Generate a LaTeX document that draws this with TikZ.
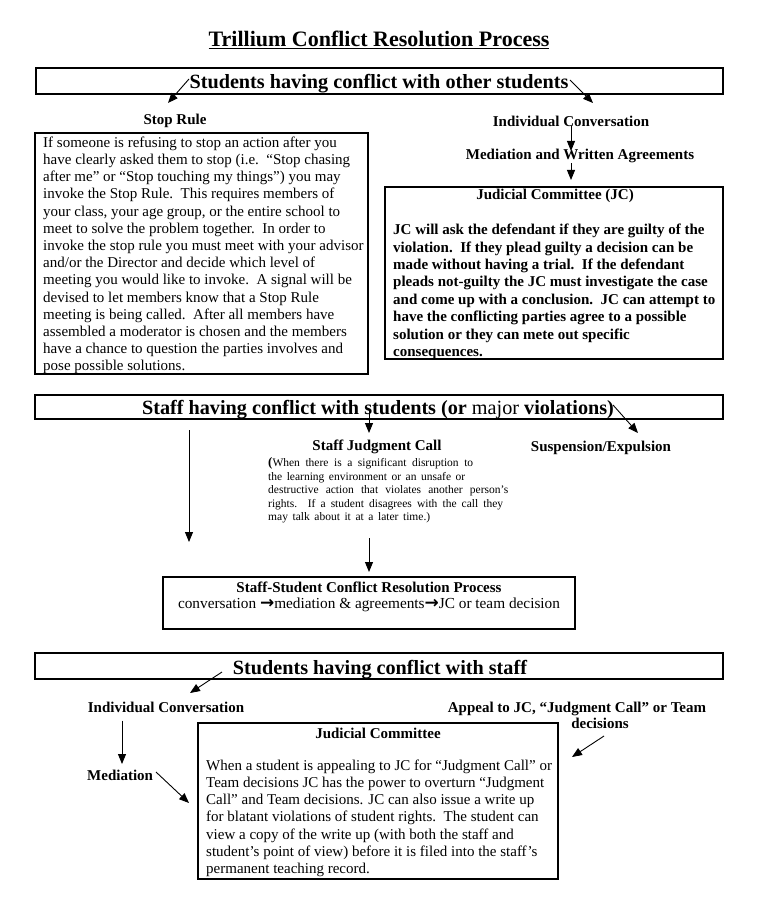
\documentclass[tikz,border=0pt]{standalone}
\usepackage{fontspec}
\setmainfont{Liberation Serif}
\newfontfamily\arrowfont{DejaVu Sans}
\usetikzlibrary{arrows.meta,calc}
\begin{document}
\begin{tikzpicture}[x=1pt,y=-1pt,
  box/.style={draw,line width=1.1pt,inner sep=0pt},
  arr/.style={line width=0.9pt,-{Triangle[length=10pt,width=8pt]}},
  hdr/.style={font=\fontsize{20.2}{23}\selectfont\bfseries,inner sep=0pt,anchor=base},
  lbl/.style={font=\fontsize{15}{16.5}\selectfont\bfseries,inner sep=0pt},
  body/.style={font=\fontsize{15}{17.2}\selectfont,align=left,inner sep=0pt,anchor=north west},
  bbody/.style={font=\fontsize{15}{17.4}\selectfont\bfseries,align=left,inner sep=0pt,anchor=north west},
  small/.style={font=\fontsize{11.5}{13.5}\selectfont,align=left,inner sep=0pt,anchor=north west},
]
\useasboundingbox (0,0) rectangle (759,917);
\fill[white] (0,0) rectangle (759,917);

\node[font=\fontsize{22}{25}\selectfont\bfseries,inner sep=0pt] (title) at (379,40) {\underline{Trillium Conflict Resolution Process}};

% ---------- section 1
\node[box,minimum width=687pt,minimum height=26pt] (h1) at (379.5,81) {};
\node[hdr] (h1t) at (379,89) {Students having conflict with other students};
\node[lbl] (stop) at (175,121) {Stop Rule};
\node[box,minimum width=333pt,minimum height=241pt] (stopbox) at (201.5,253.5) {};
\node[body] (stoptext) at (43,136.5) {If someone is refusing to stop an action after you\\
have clearly asked them to stop (i.e.\ \ “Stop chasing\\
after me” or “Stop touching my things”) you may\\
invoke the Stop Rule.\ \ This requires members of\\
your class, your age group, or the entire school to\\
meet to solve the problem together.\ \ In order to\\
invoke the stop rule you must meet with your advisor\\
and/or the Director and decide which level of\\
meeting you would like to invoke.\ \ A signal will be\\
devised to let members know that a Stop Rule\\
meeting is being called.\ \ After all members have\\
assembled a moderator is chosen and the members\\
have a chance to question the parties involves and\\
pose possible solutions.};

\node[lbl] (ic1) at (571,121) {Individual Conversation};
\node[lbl] (mw) at (580,156) {Mediation and Written Agreements};
\node[box,minimum width=338pt,minimum height=172pt] (jcbox) at (554,273) {};
\node[lbl] (jct) at (555,196) {Judicial Committee (JC)};
\node[bbody] (jctext) at (393,224) {JC will ask the defendant if they are guilty of the\\
violation.\ \ If they plead guilty a decision can be\\
made without having a trial.\ \ If the defendant\\
pleads not-guilty the JC must investigate the case\\
and come up with a conclusion.\ \ JC can attempt to\\
have the conflicting parties agree to a possible\\
solution or they can mete out specific\\
consequences.};

\coordinate (a1s) at (189,79);
\coordinate (a1e) at (168,103);
\coordinate (a2s) at (570,80);
\coordinate (a2e) at (593,103);
\coordinate (a3e) at (571,151);
\coordinate (a4e) at (571,180);
\draw[arr] (a1s) -- (a1e);
\draw[arr] (a2s) -- (a2e);
\draw[arr] (ic1.south -| a3e) -- (a3e);
\draw[arr] (mw.south -| a4e) -- (a4e);

% ---------- section 2
\node[box,minimum width=688pt,minimum height=24pt] (h2) at (379,407) {};
\node[hdr] (h2t) at (378,414) {Staff having conflict with students (or {\mdseries major} violations)};
\node[lbl] (sjc) at (377,447) {Staff Judgment Call};
\node[lbl] (susp) at (601,448) {Suspension/Expulsion};
\node[small] (jtext) at (268,457.5) {\makebox[205pt][s]{{\bfseries\fontsize{13}{13.5}\selectfont(}When there is a significant disruption to}\\
\makebox[197pt][s]{the learning environment or an unsafe or}\\
\makebox[240pt][s]{destructive action that violates another person’s}\\
\makebox[235pt][s]{rights. If a student disagrees with the call they}\\
\makebox[162pt][s]{may talk about it at a later time.)}};
\node[box,minimum width=412pt,minimum height=52pt] (ssbox) at (369,603) {};
\node[lbl] (sst) at (369,587) {Staff-Student Conflict Resolution Process};
\node[font=\fontsize{15.3}{17}\selectfont,inner sep=0pt] (ssl) at (369,605) {conversation {\arrowfont\bfseries\fontsize{17}{17}\selectfont →}mediation \& agreements{\arrowfont\bfseries\fontsize{17}{17}\selectfont →}JC or team decision};

\coordinate (b1s) at (369,411);
\coordinate (b1e) at (369,433);
\coordinate (b2s) at (613,405);
\coordinate (b2e) at (638,433);
\coordinate (b3s) at (189,430);
\coordinate (b3e) at (189,542);
\coordinate (b4s) at (369,538);
\coordinate (b4e) at (369,572);
\draw[arr] (b1s) -- (b1e);
\draw[arr] (b2s) -- (b2e);
\draw[arr] (b3s) -- (b3e);
\draw[arr] (b4s) -- (b4e);

% ---------- section 3
\node[box,minimum width=688pt,minimum height=26pt] (h3) at (379,666) {};
\node[hdr] (h3t) at (380,674) {Students having conflict with staff};
\node[lbl] (ic2) at (166,707) {Individual Conversation};
\node[lbl,anchor=west] (med) at (87,775) {Mediation};
\node[lbl,align=center,font=\fontsize{15}{16}\selectfont\bfseries] (appeal) at (577,715) {Appeal to JC, “Judgment Call” or Team\\\hspace*{46pt}decisions};
\node[box,minimum width=360pt,minimum height=156pt] (jc2box) at (378,801) {};
\node[lbl] (jc2t) at (378,733) {Judicial Committee};
\node[body] (jc2text) at (206,759.5) {When a student is appealing to JC for “Judgment Call” or\\
Team decisions JC has the power to overturn “Judgment\\
Call” and Team decisions. JC can also issue a write up\\
for blatant violations of student rights.\ \ The student can\\
view a copy of the write up (with both the staff and\\
student’s point of view) before it is filed into the staff’s\\
permanent teaching record.};

\coordinate (c1s) at (222,672);
\coordinate (c1e) at (190,693);
\coordinate (c2e) at (122,764);
\coordinate (c3s) at (156,772);
\coordinate (c3e) at (189,803);
\coordinate (c4s) at (604,736);
\coordinate (c4e) at (572,757);
\draw[arr] (c1s) -- (c1e);
\draw[arr] ($(ic2.south -| c2e)+(0,8)$) -- (c2e);
\draw[arr] (c3s) -- (c3e);
\draw[arr] (c4s) -- (c4e);
\end{tikzpicture}
\end{document}
